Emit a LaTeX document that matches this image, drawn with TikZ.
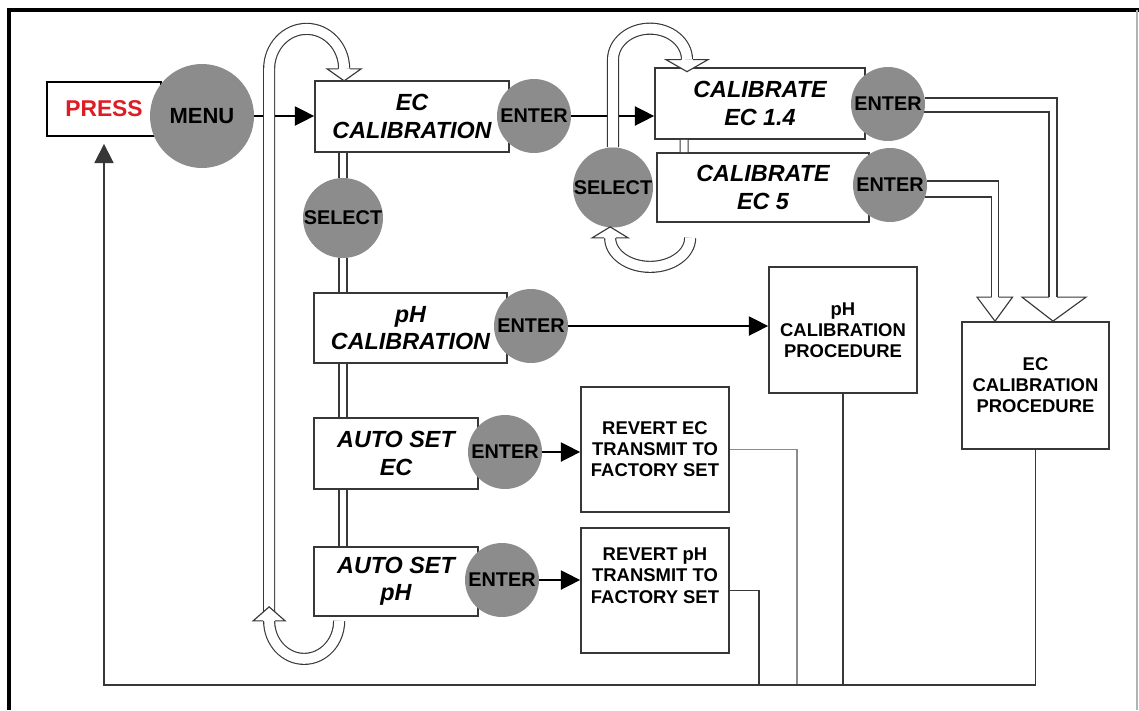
\documentclass[tikz,border=0pt]{standalone}
\usepackage{fontspec}
\setmainfont{Liberation Sans}
\usepackage{tikz}
\usepackage{xcolor}
\usetikzlibrary{arrows.meta,calc}
\definecolor{btngray}{RGB}{140,140,140}
\definecolor{pressred}{RGB}{222,28,36}
\definecolor{linegray}{RGB}{55,55,55}
\tikzset{
  box/.style={draw=linegray, line width=1pt, fill=white, align=center, font=\fontsize{13.3}{15.5}\selectfont\bfseries\itshape},
  procbox/.style={draw=linegray, line width=1pt, fill=white, align=center, minimum width=2.96cm, minimum height=2.5cm, font=\fontsize{10.5}{12}\selectfont\bfseries},
  btn/.style={circle, fill=btngray, inner sep=0pt, font=\fontsize{11.3}{12}\selectfont\bfseries},
  arrow/.style={-{Triangle[length=11pt,width=11pt]}, line width=0.8pt},
  wire/.style={line width=0.8pt, linegray},
  pipe/.style={draw=linegray, double, double distance=3.9pt, line width=0.65pt},
  band/.style={draw=linegray, double, double distance=5.6pt, line width=0.65pt},
  head/.style={draw=linegray, fill=white, line width=0.65pt, line join=miter}
}
\begin{document}
\begin{tikzpicture}[x=0.02cm, y=-0.02cm]
    \useasboundingbox (0,0) rectangle (1139,710);
    \draw[line width=2.3pt] (9,710) -- (9,10) -- (1139,10);
    \draw[gray!60, line width=0.6pt] (1137,10) -- (1137,710);

    \node[box, draw=black, text=pressred, minimum width=2.28cm, minimum height=1.08cm, font=\fontsize{13}{15}\selectfont\bfseries] (press) at (104,109) {PRESS};
    \node[box, minimum width=3.88cm, minimum height=1.42cm] (ecc) at (412,116.5) {EC\\CALIBRATION};
    \node[box, minimum width=4.2cm, minimum height=1.42cm] (cal14) at (760,103.5) {CALIBRATE\\EC 1.4};
    \node[box, minimum width=4.24cm, minimum height=1.38cm] (cal5) at (763,187.5) {CALIBRATE\\EC 5};
    \node[box, minimum width=3.86cm, minimum height=1.4cm] (phc) at (410.5,328) {pH\\CALIBRATION};
    \node[box, minimum width=3.28cm, minimum height=1.42cm] (asec) at (396,453.5) {AUTO SET\\EC};
    \node[box, minimum width=3.28cm, minimum height=1.38cm] (asph) at (396,581.5) {AUTO SET\\pH};
    \node[procbox] (revec) at (655,449.5) {REVERT EC\\TRANSMIT TO\\FACTORY SET};
    \node[procbox, text depth=17pt] (revph) at (655,590.5) {REVERT pH\\TRANSMIT TO\\FACTORY SET};
    \node[procbox, minimum height=2.52cm] (phproc) at (843,330) {pH\\CALIBRATION\\PROCEDURE};
    \node[procbox, minimum width=2.94cm, minimum height=2.54cm] (ecproc) at (1035.5,385.5) {EC\\CALIBRATION\\PROCEDURE};

    \node[btn, minimum size=2.08cm, font=\fontsize{12.5}{13}\selectfont\bfseries] (menu) at (202,116) {MENU};
    \node[btn, minimum size=1.48cm] (enterec) at (534,116) {ENTER};
    \node[btn, minimum size=1.48cm] (enter14) at (888,104) {ENTER};
    \node[btn, minimum size=1.48cm] (enter5) at (890,185) {ENTER};
    \node[btn, minimum size=1.6cm] (selr) at (613,187.5) {SELECT};
    \node[btn, minimum size=1.6cm] (sell) at (343,218) {SELECT};
    \node[btn, minimum size=1.48cm] (enterph) at (531,326) {ENTER};
    \node[btn, minimum size=1.48cm] (enterasec) at (505,452) {ENTER};
    \node[btn, minimum size=1.48cm] (enterasph) at (502,580) {ENTER};

    \draw[arrow] (menu.east) -- (menu.east -| ecc.west);
    \draw[arrow] (enterec.east) -- (enterec.east -| cal14.west);
    \draw[arrow] (enterph.east) -- (enterph.east -| phproc.west);
    \draw[arrow] (enterasec.east) -- (enterasec.east -| revec.west);
    \draw[arrow] (enterasph.east) -- (enterasph.east -| revph.west);

    \coordinate (busL) at (104,685);
    \coordinate (jec) at (797,685);
    \coordinate (jph) at (759,685);
    \draw[wire, black!45] (revec.east) -| (jec);
    \draw[wire] (revph.east) -| (jph);
    \draw[wire] (phproc.south) -- (phproc.south |- busL);
    \draw[arrow, linegray, shorten >=4pt] (ecproc.south) |- (busL) -- (press.south);

    \coordinate (tipa) at ($(ecproc.north)+(17.5,0)$);
    \coordinate (tipb) at ($(ecproc.north)+(-40.5,0)$);
    \draw[wire] ($(enter14.east)+(0,-6)$) -| ($(tipa)+(4,-24)$);
    \draw[wire] ($(enter14.east)+(-1,8)$) -| ($(tipa)+(-4,-24)$);
    \filldraw[head] ($(tipa)+(-4,-24)$) -- ++(-27,0) -- (tipa) -- ++(33,-24) -- ++(-29,0);
    \draw[wire] ($(enter5.east)+(0,-4)$) -| ($(tipb)+(3.5,-24)$);
    \draw[wire] ($(enter5.east)+(-2,12)$) -| ($(tipb)+(-3.5,-24)$);
    \filldraw[head] ($(tipb)+(-3.5,-24)$) -- ++(-14.5,0) -- (tipb) -- ++(17.5,-24) -- ++(-14,0);

    \draw[pipe] (sell.north) -- (sell.north |- ecc.south);
    \draw[pipe] (sell.south) -- (sell.south |- phc.north);
    \draw[pipe] (phc.south -| sell.south) -- (asec.north -| sell.south);
    \draw[pipe] (asec.south -| sell.south) -- (asph.north -| sell.south);
    \draw[pipe] ($(cal14.south west)+(30,0)$) -- ($(cal5.north west)+(28,0)$);

    \draw[band] (selr.north) -- ++(0,-87.5) arc[start angle=180, end angle=360, x radius=37, y radius=31] coordinate (rtop);
    \filldraw[head] ($(rtop)+(-6,0)$) -- ++(-15,0) -- ++(21,12) -- ++(21,-12) -- ++(-15,0);
    \draw[band] ($(cal5.south west)+(34,15)$) arc[start angle=0, end angle=180, x radius=40, y radius=29] coordinate (rbot);
    \filldraw[head] ($(rbot)+(-6,0)$) -- ++(-12,0) -- ++(18,-11) -- ++(18,11) -- ++(-12,0);

    \draw[band] ($(asph.south west)+(26,4)$) arc[start angle=0, end angle=180, x radius=35, y radius=38] coordinate (lbot);
    \draw[band] ($(lbot)+(0,-6)$) -- ++(0,-546) arc[start angle=180, end angle=360, x radius=37.5, y radius=40] coordinate (ltop);
    \filldraw[head] ($(lbot)+(-6,0)$) -- ++(-10,0) -- ++(16,-14) -- ++(16,14) -- ++(-10,0);
    \filldraw[head] ($(ltop)+(-6,0)$) -- ++(-11,0) -- ++(17,12) -- ++(17,-12) -- ++(-11,0);
  \end{tikzpicture}
\end{document}
